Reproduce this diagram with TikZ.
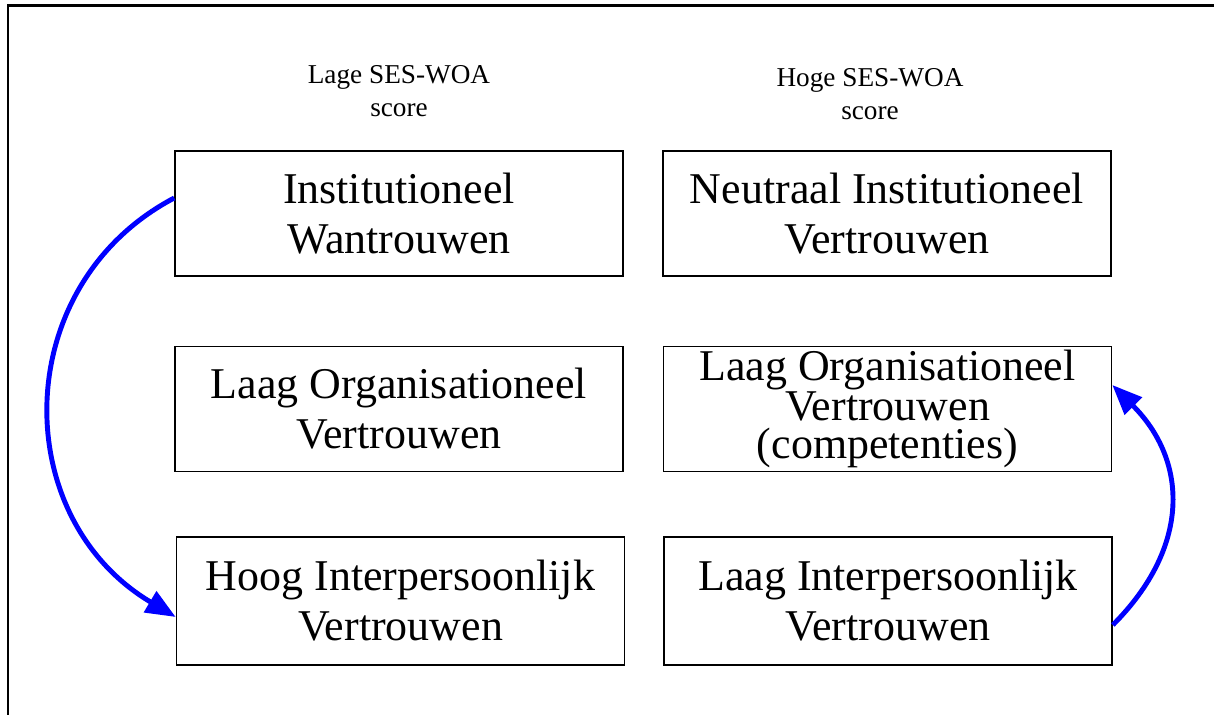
\documentclass[tikz,border=0pt]{standalone}
\usepackage{fontspec}
\setmainfont{Liberation Serif}
\usepackage{tikz}
\usetikzlibrary{shapes,arrows.meta,calc}

\begin{document}
\begin{tikzpicture}[scale=1]
      \tikzset{trust box/.style={draw=black,
          line width=0.9pt,
          minimum width=8.96cm,
          minimum height=2.5cm,
          inner sep=0pt,
          align=center,
          font=\fontsize{25}{28.5}\selectfont},
        column head/.style={align=center,
          font=\fontsize{15.5}{18.8}\selectfont},
        flow/.style={draw=blue,
          line width=2.8pt,
          -{Triangle[length=17pt,width=13.5pt]}}
      }
      \useasboundingbox (0,0) rectangle (24.3,14.3);
      \draw [line width=1.7pt] (0.16,0) -- (0.16,14.18) -- (24.28,14.18);

      \node [column head] (lowhead) at (7.98,12.47) {Lage SES-WOA\\score};
      \node [column head] (highhead) at (17.4,12.41) {Hoge SES-WOA\\score};

      \node [trust box] (instlow) at (7.98,10.03) {Institutioneel\\Wantrouwen};
      \node [trust box] (insthigh) at (17.74,10.03) {Neutraal Institutioneel\\Vertrouwen};
      \node [trust box] (orglow) at (7.98,6.12) {Laag Organisationeel\\Vertrouwen};
      \node [trust box,font=\fontsize{25}{21.6}\selectfont] (orghigh) at (17.75,6.12)
        {Laag Organisationeel\\Vertrouwen\\(competenties)};
      \node [trust box,minimum height=2.56cm] (perslow) at (8.01,2.28) {Hoog Interpersoonlijk\\Vertrouwen};
      \node [trust box,minimum height=2.56cm] (pershigh) at (17.76,2.28) {Laag Interpersoonlijk\\Vertrouwen};

      \draw [flow] ($(instlow.west)+(0,0.31)$) .. controls +(-3.3,-1.74) and +(-3.36,2.0) .. ($(perslow.west)+(0,-0.32)$);
      \draw [flow] ($(pershigh.east)+(0,-0.48)$) .. controls +(1.56,1.56) and +(1.52,-1.52) .. ($(orghigh.east)+(0,0.48)$);
    \end{tikzpicture}
\end{document}
